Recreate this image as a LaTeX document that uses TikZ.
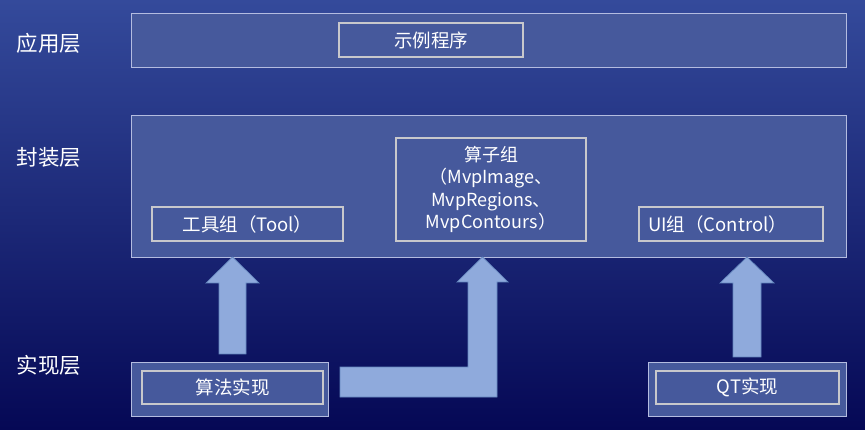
\documentclass[tikz,border=0pt]{standalone}
\usepackage{fontspec}
\setmainfont{Noto Sans CJK SC}
\definecolor{bgtop}{RGB}{52,74,155}
\definecolor{bgmid}{RGB}{26,36,122}
\definecolor{bgbot}{RGB}{5,8,85}
\definecolor{boxfill}{RGB}{70,89,156}
\definecolor{outerline}{RGB}{180,188,224}
\definecolor{innerline}{RGB}{200,200,204}
\definecolor{arrowfill}{RGB}{143,170,220}
\definecolor{arrowline}{RGB}{100,135,190}
\tikzset{
  outerbox/.style={rectangle, draw=outerline, line width=0.9pt, fill=boxfill, inner sep=0pt},
  innerbox/.style={rectangle, draw=innerline, line width=2.4pt, fill=boxfill, inner sep=0pt, text=white, font=\fontsize{18.5}{22}\selectfont},
  layerlabel/.style={text=white, font=\fontsize{21.5}{25}\selectfont, inner sep=0pt},
  blockarrow/.style={fill=arrowfill, draw=arrowline, line width=0.7pt, line join=miter},
}
\begin{document}
\begin{tikzpicture}[x=1pt,y=-1pt]
\useasboundingbox (0,0) rectangle (865,430);
\shade[top color=bgtop, middle color=bgmid, bottom color=bgbot] (0,0) rectangle (865,430);

% layer labels
\node[layerlabel] (lapp) at (49,43) {应用层};
\node[layerlabel] (lpkg) at (49,157) {封装层};
\node[layerlabel] (limp) at (49,365) {实现层};

% application layer
\node[outerbox, minimum width=715pt, minimum height=54pt] (app) at (488.5,40) {};
\node[innerbox, minimum width=184pt, minimum height=34pt] (demo) at (431,40) {示例程序};

% package layer
\node[outerbox, minimum width=715pt, minimum height=142pt] (pkg) at (488.5,186) {};
\node[innerbox, minimum width=191pt, minimum height=34pt] (tool) at (247.5,224) {工具组（Tool）};
\node[innerbox, minimum width=190pt, minimum height=103pt, align=center,
      font=\fontsize{18}{22.6}\selectfont] (ops) at (491,189.5)
      {算子组\\（MvpImage、\\MvpRegions、\\MvpContours）};
\node[innerbox, minimum width=184pt, minimum height=34pt] (ui) at (731,224) {};
\node[text=white, font=\fontsize{18.5}{22}\selectfont, anchor=west, inner sep=0pt] (uitext) at (648,224) {UI组（Control）};

% implementation layer
\node[outerbox, minimum width=197pt, minimum height=54pt] (algoout) at (229.5,389) {};
\node[innerbox, minimum width=181pt, minimum height=33pt] (algo) at (232.5,387.5) {算法实现};
\node[outerbox, minimum width=198pt, minimum height=54pt] (qtout) at (747,389) {};
\node[innerbox, minimum width=183pt, minimum height=33pt] (qt) at (747.5,387.5) {QT实现};

% block arrows
\draw[blockarrow] (219,354) -- (219,283) -- (206,283) -- (232.5,257) -- (259,283) -- (246,283) -- (246,354) -- cycle;
\draw[blockarrow] (340,367) -- (468,367) -- (468,282) -- (457,282) -- (482.5,257) -- (508,282) -- (497,282) -- (497,397) -- (340,397) -- cycle;
\draw[blockarrow] (733,357) -- (733,283) -- (720,283) -- (747,257) -- (774,283) -- (761,283) -- (761,357) -- cycle;
\end{tikzpicture}
\end{document}
